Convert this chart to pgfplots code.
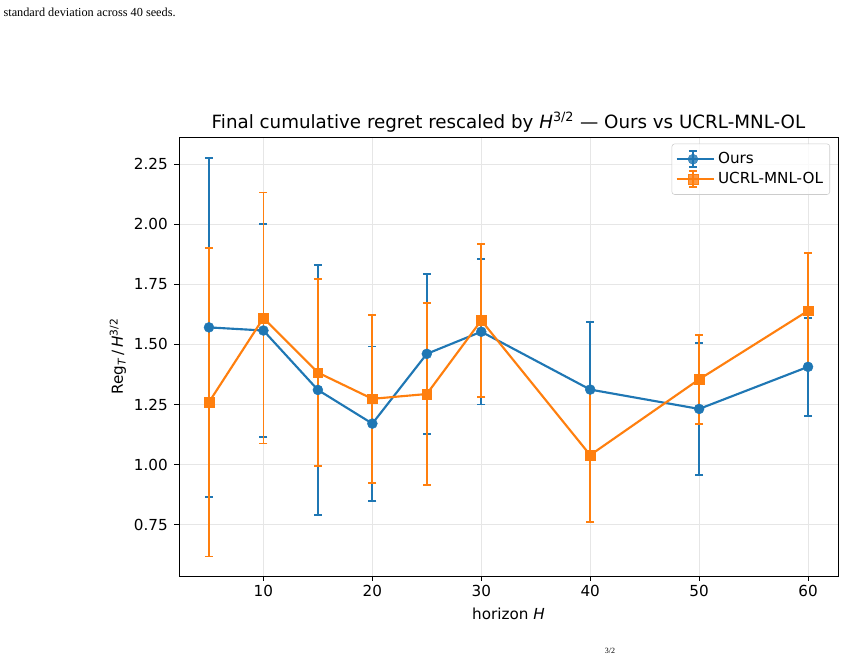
\documentclass[border=0pt]{standalone}
\usepackage{pgfplots}
\pgfplotsset{compat=1.18}
\usepackage{pgfplotstable}
\usepackage{fontspec}
\setmainfont{DejaVu Sans}
\newfontfamily\capfont{Liberation Serif}
\definecolor{tabblue}{HTML}{1F77B4}
\definecolor{taborange}{HTML}{FF7F0E}
\definecolor{gridgray}{HTML}{E6E6E6}

\pgfplotstableread{
x y e
5 1.571 0.704
10 1.558 0.443
15 1.311 0.520
20 1.171 0.321
25 1.461 0.333
30 1.553 0.303
40 1.3125 0.280
50 1.232 0.274
60 1.407 0.204
}\ours
\pgfplotstableread{
x y e
5 1.260 0.641
10 1.610 0.522
15 1.383 0.388
20 1.274 0.350
25 1.294 0.377
30 1.600 0.317
40 1.040 0.278
50 1.355 0.185
60 1.640 0.240
}\ucrl

\begin{document}
\begin{tikzpicture}
\path[use as bounding box] (0pt,0pt) rectangle (634.5pt,491.25pt);
\node[anchor=base west, inner sep=0pt, font=\capfont\fontsize{9.2}{11}\selectfont] at (2.5pt,478.5pt) {standard deviation across 40 seeds.};
\node[anchor=south, inner sep=0pt, font=\capfont\fontsize{6}{7}\selectfont] at (457.5pt,0.6pt) {3/2};
\begin{axis}[
  at={(134.25pt,59.25pt)}, anchor=south west,
  scale only axis, width=494.25pt, height=329.25pt,
  xmin=2.25, xmax=62.75, ymin=0.5375, ymax=2.3625,
  xtick={10,20,30,40,50,60},
  ytick={0.75,1.00,1.25,1.50,1.75,2.00,2.25},
  /pgf/number format/assume math mode=true,
  yticklabel style={/pgf/number format/fixed, /pgf/number format/fixed zerofill, /pgf/number format/precision=2},
  tick label style={font=\fontsize{11.4}{13}\selectfont},
  xticklabel style={anchor=base, inner sep=0pt, yshift=-12.15pt},
  yticklabel style={anchor=east, inner sep=0pt, xshift=-4.65pt},
  tick align=outside, xtick pos=bottom, ytick pos=left,
  major tick length=3.6pt,
  every tick/.style={black, line width=0.6pt},
  axis line style={black, line width=0.6pt},
  grid=major,
  major grid style={gridgray, line width=0.6pt},
  every axis title shift=0pt,
  title={Final cumulative regret rescaled by \textit{H}\textsuperscript{3/2} — Ours vs UCRL-MNL-OL},
  title style={font=\fontsize{13.7}{16}\selectfont, at={(axis description cs:0.5,1)}, anchor=base, inner sep=0pt, yshift=6.4pt},
  xlabel={horizon \textit{H}},
  xlabel style={font=\fontsize{11.4}{13}\selectfont, at={(axis description cs:0.5,0)}, anchor=base, inner sep=0pt, yshift=-33pt},
  ylabel={Reg\textsubscript{\textit{T}}\,/\,\textit{H}\textsuperscript{3/2}},
  ylabel style={font=\fontsize{11.4}{13}\selectfont, at={(axis description cs:-0.0926,0.5)}, anchor=center, inner sep=0pt},
  legend style={at={(1,1)}, anchor=north east, xshift=-6pt, yshift=-5pt,
    draw=black!20, rounded corners=2pt, fill=white, fill opacity=0.8, text opacity=1,
    font=\fontsize{11.4}{13}\selectfont, row sep=1pt, inner xsep=3pt, inner ysep=4.5pt},
  legend cell align=left,
  legend image code/.code={
    \path (0pt,0pt) -- (28pt,0pt);
    \draw[#1,mark=none] (0pt,0pt) -- (24pt,0pt);
    \draw[#1,mark=none,line width=1.3pt] (12pt,-6pt) -- (12pt,6pt);
    \draw[#1,mark=none,line width=1.3pt] (9pt,-6pt) -- (15pt,-6pt) (9pt,6pt) -- (15pt,6pt);
    \draw[#1] plot coordinates {(12pt,0pt)};
  },
  error bars/y dir=both, error bars/y explicit,
]
\addplot[tabblue, line width=1.6pt, mark=*, mark size=3.75pt, mark options={solid, fill=tabblue, draw=tabblue, line width=0.3pt},
  error bars/error bar style={line width=1.3pt, tabblue},
  error bars/error mark options={rotate=90, mark size=3pt, line width=1.3pt, tabblue}]
  table[x=x, y=y, y error=e] {\ours};
\addlegendentry{Ours}
\addplot[taborange, line width=1.6pt, mark=square*, mark size=3.6pt, mark options={solid, fill=taborange, draw=taborange, line width=0.3pt},
  error bars/error bar style={line width=1.3pt, taborange},
  error bars/error mark options={rotate=90, mark size=3pt, line width=1.3pt, taborange}]
  table[x=x, y=y, y error=e] {\ucrl};
\addlegendentry{UCRL-MNL-OL}
\end{axis}
\end{tikzpicture}
\end{document}
